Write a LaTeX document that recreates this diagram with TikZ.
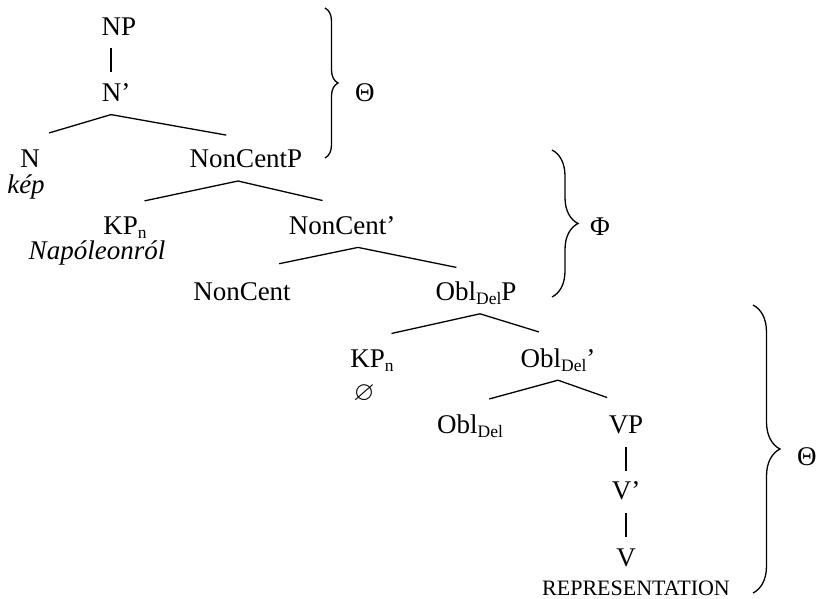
\documentclass[tikz,border=0pt]{standalone}
\usepackage{fontspec}
\setmainfont{Liberation Serif}
\usepackage{amssymb}
\usepackage{tikz}
\usetikzlibrary{positioning}
\usetikzlibrary{decorations.pathreplacing}

\newcommand{\lowtxt}[1]{\raisebox{-4pt}{\fontsize{17.5}{18}\selectfont #1}}

\begin{document}
\begin{tikzpicture}[x=1pt, y=-1pt, node distance=24pt]
\tikzstyle{cat} = [inner xsep=0pt, inner ysep=10pt, text height=19pt, text depth=3pt, font=\fontsize{27}{31}\selectfont]
\tikzstyle{lex} = [inner sep=0pt, anchor=base, font=\fontsize{27}{31}\selectfont\itshape]
\tikzstyle{greek} = [inner sep=0pt, anchor=west, font=\fontsize{27}{31}\selectfont]
\tikzstyle{branch} = [draw, line width=1.3pt, shorten >=20pt]
\tikzstyle{stem} = [draw, line width=1.3pt]
\tikzstyle{brace} = [draw, line width=1.3pt, decorate, decoration={brace}]

\useasboundingbox (0,0) rectangle (818,598);

\node [cat, anchor=base] (np) at (119,35) {NP};
\node [cat, below=of np, xshift=-3pt] (nbar) {N’};
\node [cat, below=of nbar, xshift=-86pt] (n) {N};
\node [cat, below=of nbar, xshift=130pt] (ncp) {NonCentP};
\node [lex, below=26pt of n.base, anchor=base, xshift=-4pt] (kep) {kép};
\node [cat, below=of ncp, xshift=-121pt] (kpn) {KP\lowtxt{n}};
\node [cat, below=of ncp, xshift=96pt] (ncbar) {NonCent’};
\node [lex, below=25pt of kpn.base, anchor=base, xshift=-28pt] (napoleon) {Napóleonról};
\node [cat, below=of ncbar, xshift=-100pt] (nc) {NonCent};
\node [cat, below=of ncbar, xshift=134pt] (oblp) {Obl\lowtxt{Del}P};
\node [cat, below=of oblp, xshift=-104pt] (kpn2) {KP\lowtxt{n}};
\node [cat, below=of oblp, xshift=82pt] (oblbar) {Obl\lowtxt{Del}’};
\node [lex, below=33pt of kpn2.base, anchor=base, xshift=-8pt] (null) {$\varnothing$};
\node [cat, below=of oblbar, xshift=-88pt] (obl) {Obl\lowtxt{Del}};
\node [cat, below=of oblbar, xshift=68pt] (vp) {VP};
\node [cat, below=of vp] (vbar) {V’};
\node [cat, below=of vbar] (v) {V};
\node [lex, below=29pt of v.base, anchor=base, xshift=10pt, font=\fontsize{22}{26}\selectfont] (repr) {REPRESENTATION};

\path [stem] ([xshift=-8pt]np.south) -- ([xshift=-5pt]nbar.north);
\path [branch] ([xshift=-5pt]nbar.south) -- (n.north);
\path [branch] ([xshift=-5pt]nbar.south) -- (ncp.north);
\path [branch] ([xshift=-8pt]ncp.south) -- (kpn.north);
\path [branch] ([xshift=-8pt]ncp.south) -- (ncbar.north);
\path [branch, shorten >=38pt] ([xshift=16pt]ncbar.south) -- (nc.north);
\path [branch] ([xshift=16pt]ncbar.south) -- (oblp.north);
\path [branch] ([xshift=4pt]oblp.south) -- (kpn2.north);
\path [branch] ([xshift=4pt]oblp.south) -- (oblbar.north);
\path [branch] (oblbar.south) -- (obl.north);
\path [branch] (oblbar.south) -- (vp.north);
\path [stem] (vp) -- (vbar);
\path [stem] (vbar) -- (v);

% braces
\coordinate (b1t) at (325,8);
\coordinate (b1b) at (325,158);
\coordinate (b2t) at (552,150);
\coordinate (b2b) at (552,297);
\coordinate (b3t) at (753,305);
\coordinate (b3b) at (753,593);
\path [brace, decoration={amplitude=13pt}] (b1t) -- (b1b);
\path [brace, decoration={amplitude=26pt}] (b2t) -- (b2b);
\path [brace, decoration={amplitude=27pt}] (b3t) -- (b3b);
\node [greek] (theta1) at (355,93) {Θ};
\node [greek] (phi) at (590,227) {Φ};
\node [greek] (theta2) at (797,457) {Θ};
\end{tikzpicture}
\end{document}
